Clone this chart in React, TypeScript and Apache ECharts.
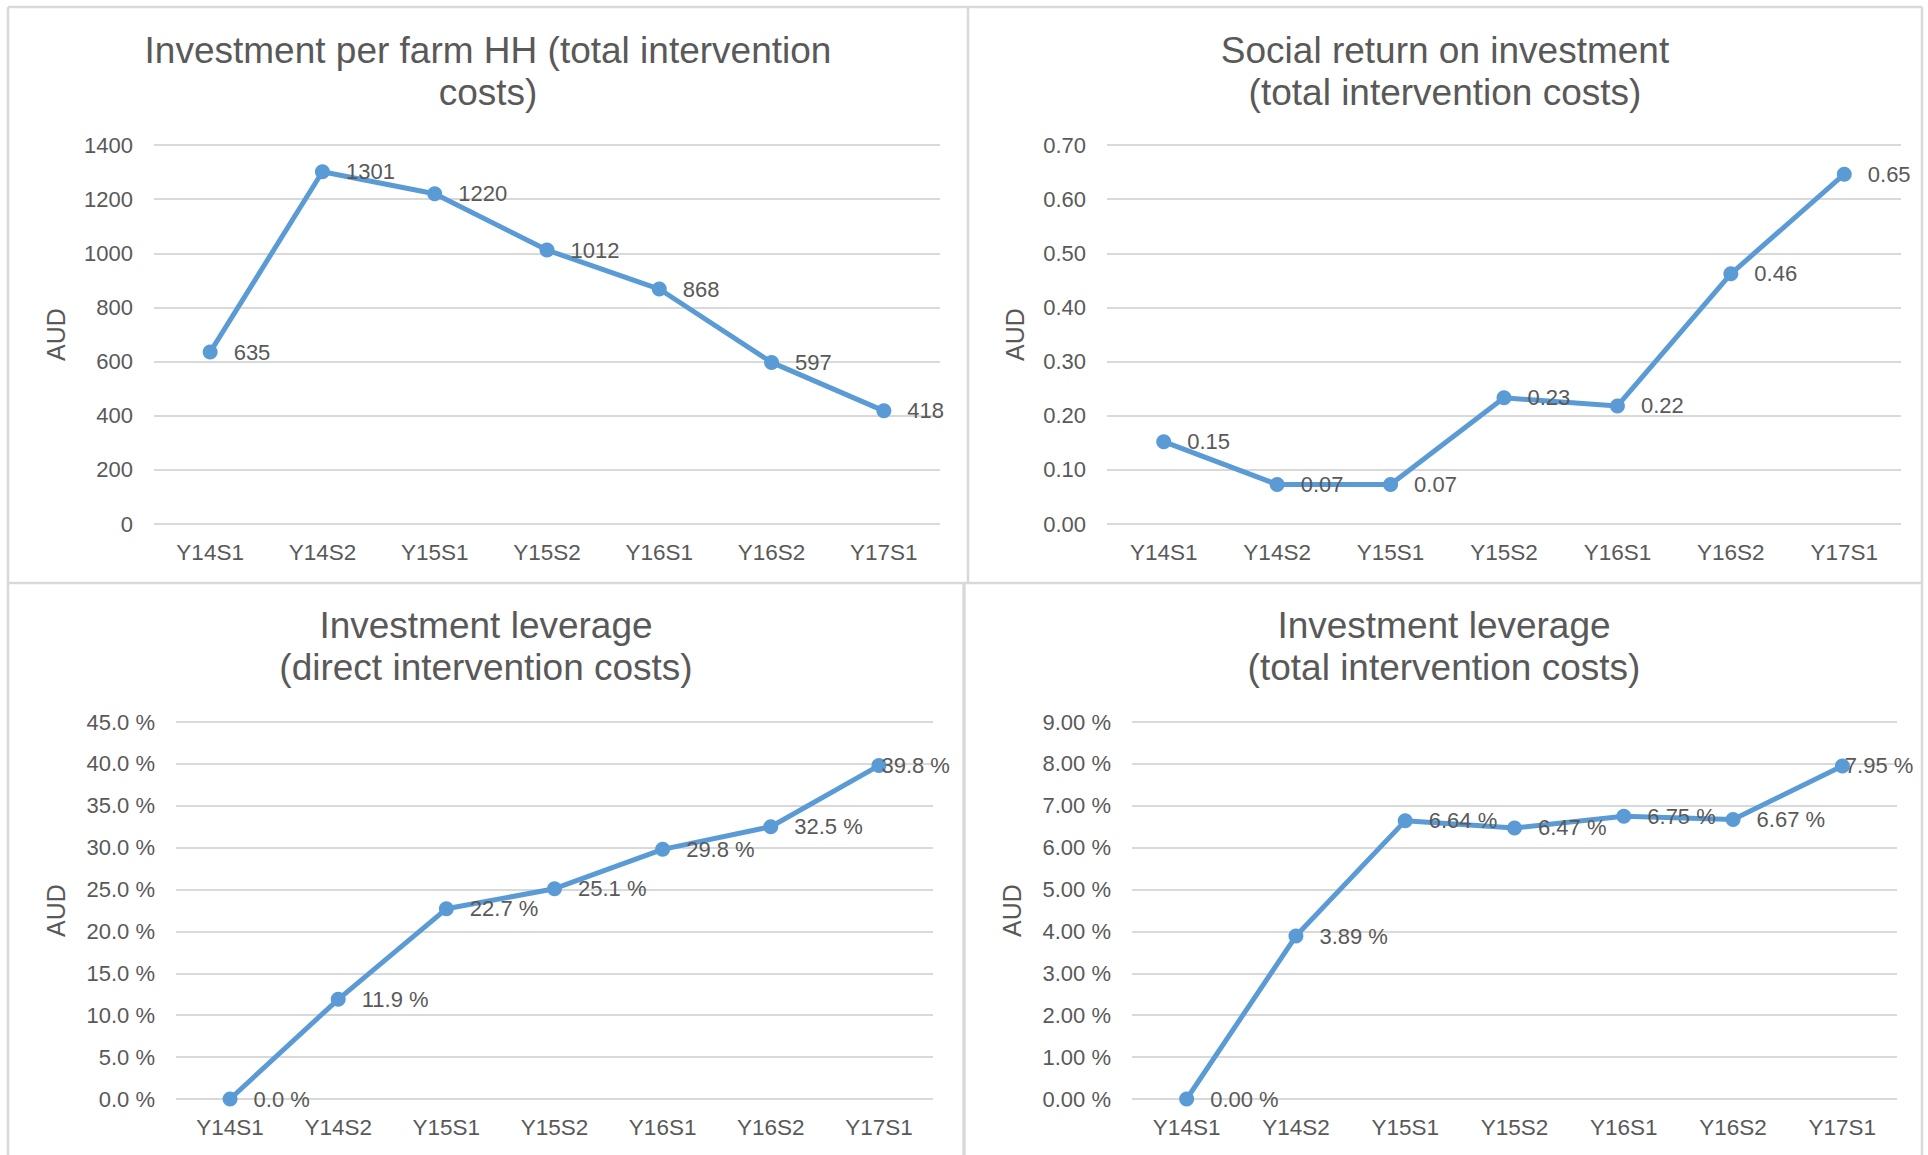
import React, { useEffect, useRef } from "react";
import * as echarts from "echarts";

const categories = ["Y14S1", "Y14S2", "Y15S1", "Y15S2", "Y16S1", "Y16S2", "Y17S1"];

const investmentPerFarm = [635, 1301, 1220, 1012, 868, 597, 418];
const socialReturn = [0.152, 0.073, 0.073, 0.233, 0.218, 0.462, 0.646];
const leverageDirect = [0.0, 11.9, 22.7, 25.1, 29.8, 32.5, 39.8];
const leverageTotal = [0.0, 3.89, 6.64, 6.47, 6.75, 6.67, 7.95];

const titles = [
  "Investment per farm HH (total intervention\ncosts)",
  "Social return on investment\n(total intervention costs)",
  "Investment leverage\n(direct intervention costs)",
  "Investment leverage\n(total intervention costs)",
];

const FONT = "'Liberation Sans', Arial, sans-serif";
const TEXT = "#595959";
const GRID = "#D9D9D9";
const BLUE = "#5B9BD5";

export default function App() {
  const ref = useRef<HTMLDivElement>(null);

  useEffect(() => {
    if (!ref.current) return;
    const chart = echarts.init(ref.current, undefined, { renderer: "svg" });

    const grids = [
      { left: 154, top: 145, width: 786, height: 379 },
      { left: 1107, top: 145, width: 794, height: 379 },
      { left: 176, top: 722, width: 757, height: 377 },
      { left: 1132, top: 722, width: 765, height: 377 },
    ];
    const titlePos = [
      { x: 488, y: 29 },
      { x: 1445, y: 29 },
      { x: 486, y: 604 },
      { x: 1444, y: 604 },
    ];
    const nameGaps = [86, 80, 108, 108];
    const yCfg = [
      { min: 0, max: 1400, interval: 200, fmt: (v: number) => String(Math.round(v)) },
      { min: 0, max: 0.7, interval: 0.1, fmt: (v: number) => v.toFixed(2) },
      { min: 0, max: 45, interval: 5, fmt: (v: number) => v.toFixed(1) + " %" },
      { min: 0, max: 9, interval: 1, fmt: (v: number) => v.toFixed(2) + " %" },
    ];
    const dataSets = [investmentPerFarm, socialReturn, leverageDirect, leverageTotal];
    const labelFmts = [
      (v: number) => String(v),
      (v: number) => v.toFixed(2),
      (v: number) => v.toFixed(1) + " %",
      (v: number) => v.toFixed(2) + " %",
    ];
    // last labels of the bottom charts are pushed back inside the plot, as in the reference
    const shiftLast = [false, false, true, true];

    const lineStyle = { stroke: GRID, lineWidth: 2.5 };

    chart.setOption({
      animation: false,
      backgroundColor: "#ffffff",
      title: titles.map((t, i) => ({
        text: t,
        left: titlePos[i].x,
        top: titlePos[i].y,
        textAlign: "center",
        padding: 0,
        textStyle: {
          fontFamily: FONT,
          fontSize: 37,
          lineHeight: 42,
          fontWeight: "normal",
          color: TEXT,
        },
      })),
      grid: grids.map((g) => ({ ...g, containLabel: false })),
      xAxis: grids.map((_, i) => ({
        type: "category",
        gridIndex: i,
        data: categories,
        boundaryGap: true,
        axisLine: { show: false },
        axisTick: { show: false },
        axisLabel: { fontFamily: FONT, fontSize: 22.5, color: TEXT, margin: 17 },
        splitLine: { show: false },
      })),
      yAxis: yCfg.map((c, i) => ({
        type: "value",
        gridIndex: i,
        min: c.min,
        max: c.max,
        interval: c.interval,
        name: "AUD",
        nameLocation: "middle",
        nameGap: nameGaps[i],
        nameTextStyle: { fontFamily: FONT, fontSize: 25, color: TEXT },
        axisLine: { show: false },
        axisTick: { show: false },
        axisLabel: {
          fontFamily: FONT,
          fontSize: 22,
          color: TEXT,
          margin: 21,
          formatter: c.fmt,
        },
        splitLine: { show: true, lineStyle: { color: GRID, width: 2 } },
      })),
      series: dataSets.map((d, i) => ({
        type: "line",
        xAxisIndex: i,
        yAxisIndex: i,
        data: d.map((v, j) =>
          shiftLast[i] && j === d.length - 1
            ? { value: v, label: { distance: -5 } }
            : v
        ),
        symbol: "circle",
        symbolSize: 15,
        itemStyle: { color: BLUE },
        lineStyle: { color: BLUE, width: 5 },
        label: {
          show: true,
          position: "right",
          distance: 16,
          fontFamily: FONT,
          fontSize: 22,
          color: TEXT,
          formatter: (p: any) => labelFmts[i](p.value),
        },
      })),
      graphic: [
        { type: "line", shape: { x1: 8, y1: 7, x2: 1922, y2: 7 }, style: lineStyle, silent: true },
        { type: "line", shape: { x1: 8, y1: 583, x2: 1922, y2: 583 }, style: lineStyle, silent: true },
        { type: "line", shape: { x1: 8, y1: 7, x2: 8, y2: 1155 }, style: lineStyle, silent: true },
        { type: "line", shape: { x1: 968, y1: 7, x2: 968, y2: 583 }, style: lineStyle, silent: true },
        { type: "line", shape: { x1: 964, y1: 583, x2: 964, y2: 1155 }, style: { stroke: GRID, lineWidth: 3.5 }, silent: true },
        { type: "line", shape: { x1: 1922, y1: 7, x2: 1922, y2: 1155 }, style: lineStyle, silent: true },
      ],
    });

    return () => {
      chart.dispose();
    };
  }, []);

  return (
    <div
      ref={ref}
      style={{ position: "absolute", left: 0, top: 0, width: 1928, height: 1155, background: "#fff" }}
    />
  );
}
